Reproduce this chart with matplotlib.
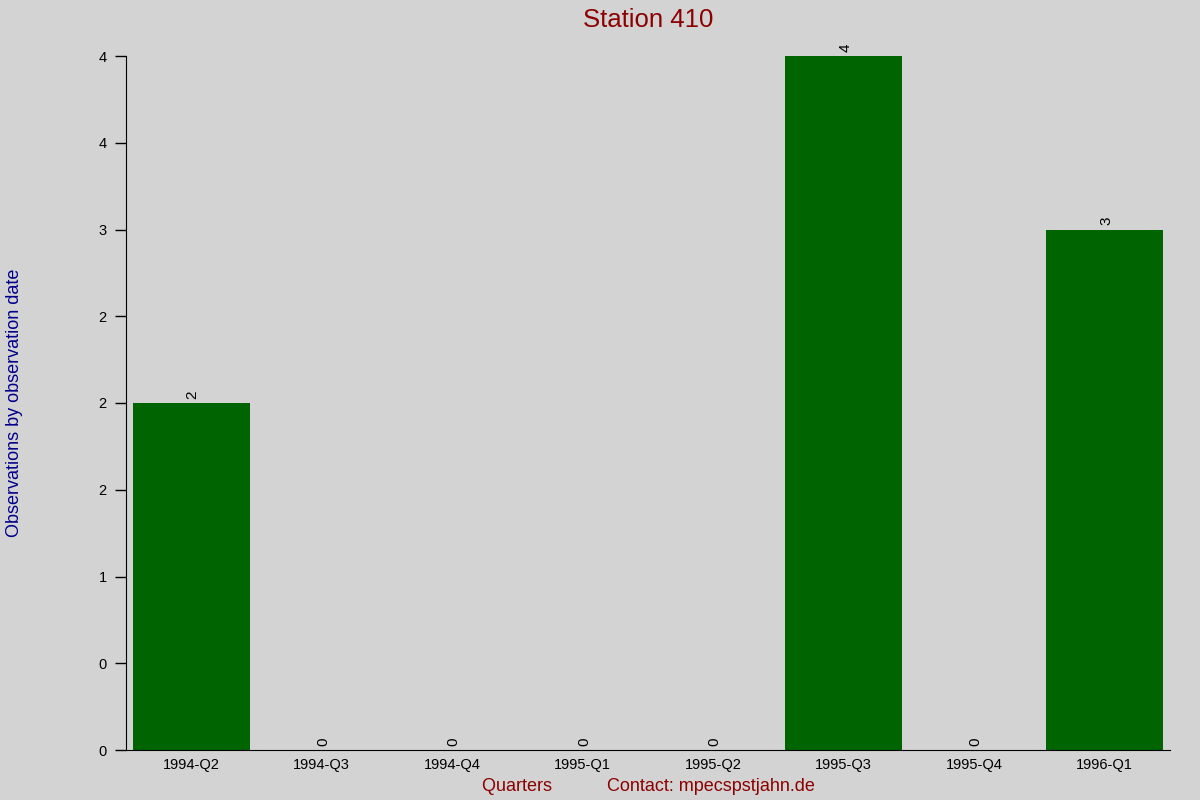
import matplotlib.pyplot as plt
import numpy as np

plt.rcParams['font.family'] = ['Liberation Sans', 'DejaVu Sans']

quarters = ['1994-Q2', '1994-Q3', '1994-Q4', '1995-Q1', '1995-Q2', '1995-Q3', '1995-Q4', '1996-Q1']
counts = [2, 0, 0, 0, 0, 4, 0, 3]
yticks = [0, 0.5, 1, 1.5, 2, 2.5, 3, 3.5, 4]

fig = plt.figure(figsize=(12, 8), dpi=100, facecolor='#d3d3d3')
ax = fig.add_axes([0.105, 0.0625, 0.87, 0.8675], facecolor='#d3d3d3')

x = np.arange(len(quarters))
bars = ax.bar(x, counts, width=0.9, color='#006400')

for xi, v in zip(x, counts):
    ax.annotate(str(v), (xi, v), xytext=(1, 3), textcoords='offset points',
                rotation=90, ha='center', va='bottom', fontsize=11)

ax.set_xlim(-0.5, 7.5)
ax.set_ylim(0, 4)
ax.set_xticks(x)
ax.set_xticklabels(quarters, fontsize=10.5)
ax.tick_params(axis='x', length=0, pad=6)
ax.set_yticks(yticks)
ax.set_yticklabels(['%.0f' % t for t in yticks], fontsize=10.5)
ax.tick_params(axis='y', length=8, width=1, pad=6)

for s in ['top', 'right']:
    ax.spines[s].set_visible(False)

ax.set_title('Station 410', color='#8b0000', fontsize=18.5, pad=21)
ax.set_xlabel('Quarters           Contact: mpecspstjahn.de', color='#8b0000', fontsize=13, labelpad=4)
ax.set_ylabel('Observations by observation date', color='#00008b', fontsize=13, labelpad=0)
ax.yaxis.set_label_coords(-0.099, 0.5)

plt.savefig('out.png', dpi=100, facecolor=fig.get_facecolor())
